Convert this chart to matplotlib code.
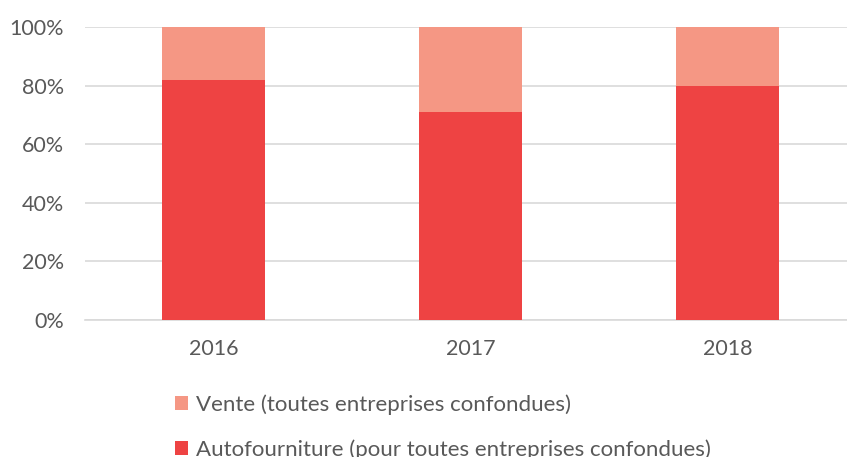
import numpy as np
import matplotlib.pyplot as plt

years = ['2016', '2017', '2018']
autofourniture = [82, 71, 80]
vente = [18, 29, 20]

plt.rcParams['font.family'] = ['Lato', 'DejaVu Sans']

fig = plt.figure(figsize=(8.47, 4.57), dpi=100)
ax = fig.add_axes([85 / 847, 137 / 457, 762 / 847, 293 / 457])

x = np.arange(len(years))
c_auto = '#EE4343'
c_vente = '#F59784'
b1 = ax.bar(x, autofourniture, width=0.4, color=c_auto, zorder=3,
            label='Autofourniture (pour toutes entreprises confondues)')
b2 = ax.bar(x, vente, width=0.4, bottom=autofourniture, color=c_vente, zorder=3,
            label='Vente (toutes entreprises confondues)')

ax.set_ylim(0, 100)
ax.set_xlim(-0.5, -0.5 + 762 / 257)
ax.set_yticks(range(0, 101, 20))
ax.set_yticklabels([f'{v}%' for v in range(0, 101, 20)])
ax.set_xticks(x)
ax.set_xticklabels(years)
ax.yaxis.grid(True, color='#d9d9d9', linewidth=1.2, zorder=0)
for s in ['top', 'right', 'left']:
    ax.spines[s].set_visible(False)
ax.spines['bottom'].set_color('#d9d9d9')
ax.spines['bottom'].set_linewidth(1.2)
ax.tick_params(axis='both', length=0, labelsize=15.5, colors='#595959')
ax.tick_params(axis='y', pad=15)
ax.tick_params(axis='x', pad=14)

fig.legend(handles=[b2, b1], loc='center left', bbox_to_anchor=(175 / 847, 1 - 427 / 457),
           frameon=False, fontsize=16, labelcolor='#595959', handlelength=0.6,
           handleheight=0.6, handletextpad=0.35, labelspacing=1.12, borderaxespad=0,
           borderpad=0)

fig.savefig('out.png', dpi=100)
